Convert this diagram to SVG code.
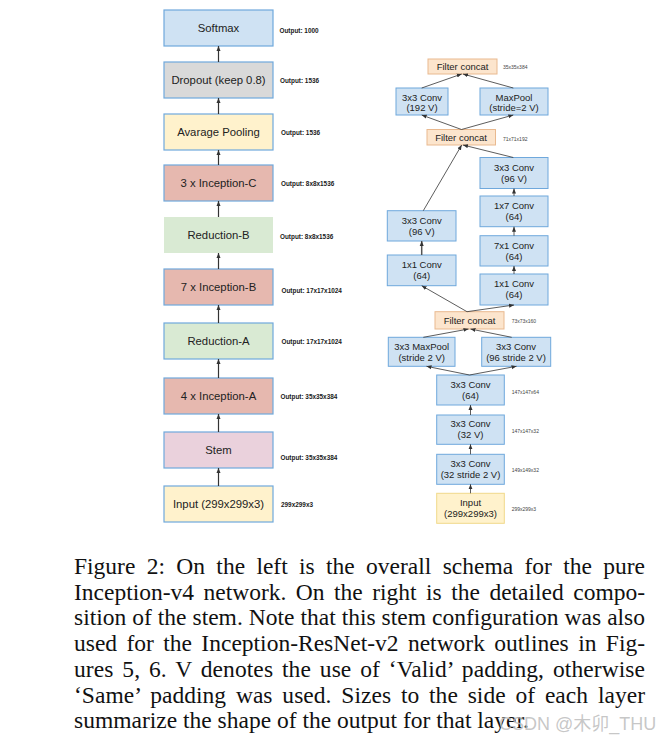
<svg xmlns="http://www.w3.org/2000/svg" width="671" height="744" viewBox="0 0 671 744">
<style>
.bg{fill:#ffffff}
.lb{stroke:#6fa8dc;stroke-width:1.2}
.nt{font-family:"Liberation Sans",Arial,sans-serif;font-size:11.3px;fill:#222;text-anchor:middle}
.rt{font-family:"Liberation Sans",Arial,sans-serif;font-size:9.5px;fill:#222;text-anchor:middle}
.ol{font-family:"Liberation Sans",Arial,sans-serif;font-size:6.4px;fill:#1a1a1a;font-weight:bold}
.sl{font-family:"Liberation Sans",Arial,sans-serif;font-size:5px;fill:#444}
.blue{fill:#cfe2f3;stroke:#6fa8dc;stroke-width:1}
.fc{fill:#fce5cd;stroke:#e9b98f;stroke-width:1}
.inp{fill:#fff2cc;stroke:#f1d98a;stroke-width:1}
.cl{stroke:#333;stroke-width:1.2;fill:none}
.cr{stroke:#333;stroke-width:0.8;fill:none}
.cap{font-family:"Liberation Serif","Times New Roman",serif;font-size:23.5px;fill:#111}
</style>
<defs>
<marker id="ah" viewBox="0 0 10 10" refX="10" refY="5" markerWidth="5" markerHeight="5" markerUnits="userSpaceOnUse" orient="auto">
<path d="M0,1 L10,5 L0,9 Z" fill="#333"/>
</marker>
</defs>
<rect class="bg" x="0" y="0" width="671" height="744"/>

<!-- Left column nodes -->
<g id="softmax"><rect class="lb" x="164" y="10" width="109" height="36" fill="#cfe2f3"/><text class="nt" x="218.5" y="32">Softmax</text><text class="ol" x="279.5" y="33">Output: 1000</text></g>
<g id="dropout"><rect class="lb" x="164" y="62" width="109" height="36" fill="#d9d9d9"/><text class="nt" x="218.5" y="84">Dropout (keep 0.8)</text><text class="ol" x="280" y="83">Output: 1536</text></g>
<g id="avgpool"><rect class="lb" x="164" y="114" width="109" height="36" fill="#fff2cc"/><text class="nt" x="218.5" y="136">Avarage Pooling</text><text class="ol" x="281" y="135">Output: 1536</text></g>
<g id="incC"><rect class="lb" x="164" y="165" width="109" height="36" fill="#e6b8af"/><text class="nt" x="218.5" y="187">3 x Inception-C</text><text class="ol" x="281" y="186.3">Output: 8x8x1536</text></g>
<g id="redB"><rect x="164" y="217" width="109" height="36" fill="#d9ead3"/><text class="nt" x="218.5" y="239">Reduction-B</text><text class="ol" x="280" y="239.3">Output: 8x8x1536</text></g>
<g id="incB"><rect class="lb" x="164" y="269" width="109" height="36" fill="#e6b8af"/><text class="nt" x="218.5" y="291">7 x Inception-B</text><text class="ol" x="281.5" y="293.3">Output: 17x17x1024</text></g>
<g id="redA"><rect class="lb" x="164" y="323" width="109" height="36" fill="#d9ead3"/><text class="nt" x="218.5" y="345">Reduction-A</text><text class="ol" x="281.5" y="344.3">Output: 17x17x1024</text></g>
<g id="incA"><rect class="lb" x="164" y="378" width="109" height="36" fill="#e6b8af"/><text class="nt" x="218.5" y="400">4 x Inception-A</text><text class="ol" x="280.5" y="399.3">Output: 35x35x384</text></g>
<g id="stem"><rect class="lb" x="164" y="432" width="109" height="36" fill="#ead1dc"/><text class="nt" x="218.5" y="454">Stem</text><text class="ol" x="280.5" y="460.3">Output: 35x35x384</text></g>
<g id="input"><rect class="lb" x="164" y="486" width="109" height="36" fill="#fff2cc"/><text class="nt" x="218.5" y="508">Input (299x299x3)</text><text class="ol" x="281" y="507.3" font-weight="normal">299x299x3</text></g>

<!-- Right column nodes -->
<g id="fc1"><rect class="fc" x="428" y="59" width="69" height="15"/><text class="rt" x="462.5" y="70">Filter concat</text><text class="sl" x="503" y="69">35x35x384</text></g>
<g id="conv192"><rect class="blue" x="396" y="88" width="52" height="27"/><text class="rt" x="422" y="100.7">3x3 Conv</text><text class="rt" x="422" y="110.7">(192 V)</text></g>
<g id="maxpool2"><rect class="blue" x="480" y="88" width="68" height="27"/><text class="rt" x="514" y="100.7">MaxPool</text><text class="rt" x="514" y="110.7">(stride=2 V)</text></g>
<g id="fc2"><rect class="fc" x="427" y="129.5" width="68.5" height="15.5"/><text class="rt" x="461" y="140.7">Filter concat</text><text class="sl" x="503" y="141">71x71x192</text></g>
<g id="r3x3"><rect class="blue" x="480" y="157.5" width="68" height="31"/><text class="rt" x="514" y="170.5">3x3 Conv</text><text class="rt" x="514" y="181.5">(96 V)</text></g>
<g id="r1x7"><rect class="blue" x="480" y="196" width="68" height="30.7"/><text class="rt" x="514" y="209">1x7 Conv</text><text class="rt" x="514" y="220">(64)</text></g>
<g id="r7x1"><rect class="blue" x="480" y="235.7" width="68" height="30.3"/><text class="rt" x="514" y="248.5">7x1 Conv</text><text class="rt" x="514" y="259.5">(64)</text></g>
<g id="r1x1"><rect class="blue" x="480" y="274" width="68" height="31"/><text class="rt" x="514" y="287">1x1 Conv</text><text class="rt" x="514" y="298">(64)</text></g>
<g id="l3x3"><rect class="blue" x="387.3" y="210.7" width="68.7" height="30.3"/><text class="rt" x="421.7" y="223.5">3x3 Conv</text><text class="rt" x="421.7" y="234.5">(96 V)</text></g>
<g id="l1x1"><rect class="blue" x="387.3" y="255" width="68.7" height="30.7"/><text class="rt" x="421.7" y="268">1x1 Conv</text><text class="rt" x="421.7" y="279">(64)</text></g>
<g id="fc3"><rect class="fc" x="435" y="311.7" width="69" height="17.3"/><text class="rt" x="469.5" y="323.5">Filter concat</text><text class="sl" x="511.7" y="323">73x73x160</text></g>
<g id="maxpool3"><rect class="blue" x="388.3" y="337.3" width="66.7" height="29"/><text class="rt" x="421.7" y="349.5">3x3 MaxPool</text><text class="rt" x="421.7" y="360.5">(stride 2 V)</text></g>
<g id="conv96s2"><rect class="blue" x="481.7" y="337.3" width="69" height="29"/><text class="rt" x="516" y="349.5">3x3 Conv</text><text class="rt" x="516" y="360.5">(96 stride 2 V)</text></g>
<g id="conv64"><rect class="blue" x="436.7" y="375" width="67.6" height="30"/><text class="rt" x="470.5" y="387.5">3x3 Conv</text><text class="rt" x="470.5" y="398.5">(64)</text><text class="sl" x="511.7" y="393.7">147x147x64</text></g>
<g id="conv32v"><rect class="blue" x="436.7" y="415" width="67.6" height="29.3"/><text class="rt" x="470.5" y="427.3">3x3 Conv</text><text class="rt" x="470.5" y="438.3">(32 V)</text><text class="sl" x="511.7" y="432.7">147x147x32</text></g>
<g id="conv32s2"><rect class="blue" x="436.7" y="454.3" width="67.6" height="30"/><text class="rt" x="470.5" y="466.8">3x3 Conv</text><text class="rt" x="470.5" y="477.8">(32 stride 2 V)</text><text class="sl" x="511.7" y="471.7">149x149x32</text></g>
<g id="inputR"><rect class="inp" x="436.7" y="493.3" width="67.6" height="30"/><text class="rt" x="470.5" y="505.8">Input</text><text class="rt" x="470.5" y="516.8">(299x299x3)</text><text class="sl" x="511.7" y="510.7">299x299x3</text></g>

<!-- Connectors -->
<g id="connectors" marker-end="url(#ah)">
<line class="cl" x1="218.5" y1="62" x2="218.5" y2="46"/>
<line class="cl" x1="218.5" y1="114" x2="218.5" y2="98"/>
<line class="cl" x1="218.5" y1="165" x2="218.5" y2="150"/>
<line class="cl" x1="218.5" y1="217" x2="218.5" y2="201"/>
<line class="cl" x1="218.5" y1="269" x2="218.5" y2="253"/>
<line class="cl" x1="218.5" y1="323" x2="218.5" y2="305"/>
<line class="cl" x1="218.5" y1="378" x2="218.5" y2="359"/>
<line class="cl" x1="218.5" y1="432" x2="218.5" y2="414"/>
<line class="cl" x1="218.5" y1="486" x2="218.5" y2="468"/>

<line class="cr" x1="470.5" y1="493.3" x2="470.5" y2="484.3"/>
<line class="cr" x1="470.5" y1="454.3" x2="470.5" y2="444.3"/>
<line class="cr" x1="470.5" y1="415" x2="470.5" y2="405"/>
<line class="cr" x1="469.5" y1="375" x2="426.5" y2="366.3"/>
<line class="cr" x1="469.5" y1="375" x2="516.5" y2="366.3"/>
<line class="cr" x1="423.3" y1="337.3" x2="468.5" y2="329"/>
<line class="cr" x1="511.7" y1="337.3" x2="470.5" y2="329"/>
<line class="cr" x1="467" y1="311.7" x2="421.7" y2="285.7"/>
<line class="cr" x1="467" y1="311.7" x2="514" y2="305"/>
<line class="cr" x1="421.7" y1="255" x2="421.7" y2="241" style="stroke:#555;stroke-width:1.5"/>
<line class="cr" x1="514" y1="274" x2="514" y2="266"/>
<line class="cr" x1="514" y1="235.7" x2="514" y2="226.7"/>
<line class="cr" x1="514" y1="196" x2="514" y2="188.5"/>
<line class="cr" x1="423.3" y1="210.7" x2="461.7" y2="145"/>
<line class="cr" x1="513.3" y1="157.5" x2="463" y2="145"/>
<line class="cr" x1="461.5" y1="129.5" x2="421.7" y2="115"/>
<line class="cr" x1="461.5" y1="129.5" x2="513.3" y2="115"/>
<line class="cr" x1="421.7" y1="88" x2="461.7" y2="74"/>
<line class="cr" x1="513.3" y1="88" x2="463" y2="74"/>
</g>

<!-- Caption -->
<g id="caption" class="cap">
<text x="74" y="574" word-spacing="5.45" textLength="571" lengthAdjust="spacing">Figure 2: On the left is the overall schema for the pure</text>
<text x="74" y="599.7" word-spacing="3.6" textLength="571" lengthAdjust="spacing">Inception-v4 network. On the right is the detailed compo-</text>
<text x="74" y="625.4" word-spacing="0.1" textLength="571" lengthAdjust="spacing">sition of the stem. Note that this stem configuration was also</text>
<text x="74" y="651.1" word-spacing="3.5" textLength="571" lengthAdjust="spacing">used for the Inception-ResNet-v2 network outlines in Fig-</text>
<text x="74" y="676.8" word-spacing="2.9" textLength="571" lengthAdjust="spacing">ures 5, 6. V denotes the use of ‘Valid’ padding, otherwise</text>
<text x="74" y="702.5" word-spacing="3.9" textLength="571" lengthAdjust="spacing">‘Same’ padding was used. Sizes to the side of each layer</text>
<text x="74" y="728.2">summarize the shape of the output for that layer.</text>
</g>
<text x="499" y="730" font-family="'Liberation Sans','Noto Sans CJK SC',sans-serif" font-size="18" fill="#bdbdbd" fill-opacity="0.85">CSDN @木卯_THU</text>
</svg>
